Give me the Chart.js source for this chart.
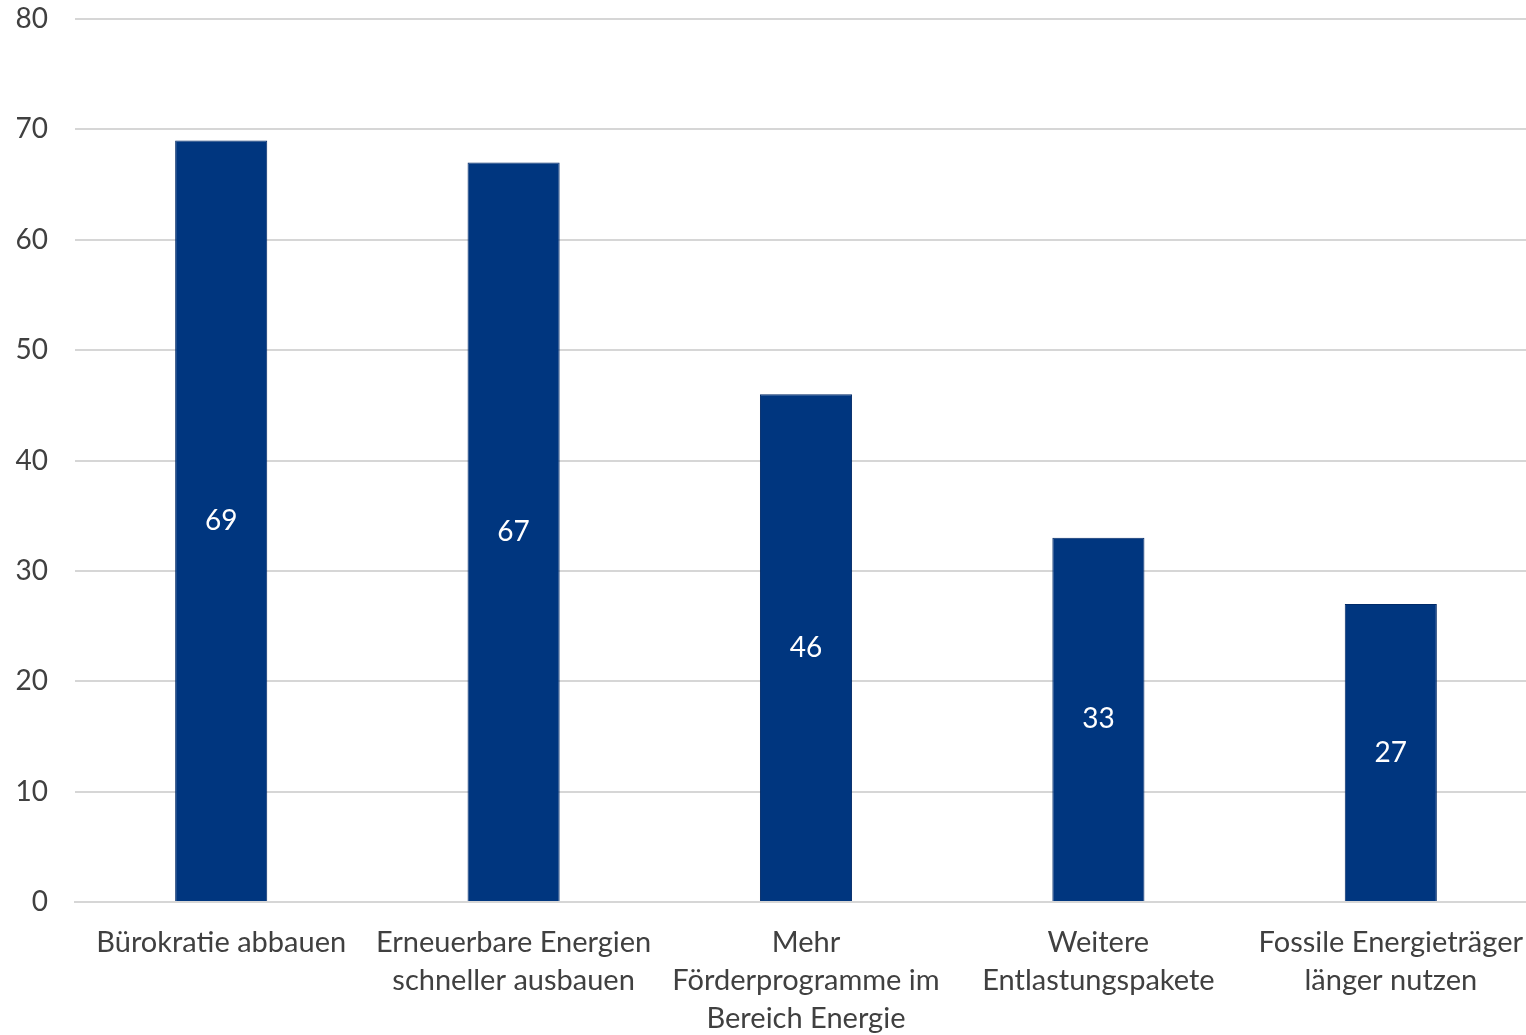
<!DOCTYPE html>
<html>
<head>
<meta charset="utf-8">
<script src="https://cdn.jsdelivr.net/npm/chart.js@4/dist/chart.umd.min.js"></script>
<style>
  html, body { margin: 0; padding: 0; background: #fff; overflow: hidden; }
  #wrap { width: 1537px; height: 1035px; position: relative; }
</style>
</head>
<body>
<div id="wrap"><canvas id="c"></canvas></div>
<script>
// Survey answers: share of respondents (percent)
const categories = [
  'Bürokratie abbauen',
  ['Erneuerbare Energien', 'schneller ausbauen'],
  ['Mehr', 'Förderprogramme im', 'Bereich Energie'],
  ['Weitere', 'Entlastungspakete'],
  ['Fossile Energieträger', 'länger nutzen']
];
const values = [69, 67, 46, 33, 27];
const yTicks = [0, 10, 20, 30, 40, 50, 60, 70, 80];

const FONT = 'Lato, "Noto Sans", sans-serif';

// Writes each bar's value in white at the middle of the bar
const valueLabels = {
  id: 'valueLabels',
  afterDatasetsDraw(chart) {
    const ctx = chart.ctx;
    const meta = chart.getDatasetMeta(0);
    ctx.save();
    ctx.fillStyle = '#ffffff';
    ctx.font = '28px ' + FONT;
    ctx.textAlign = 'center';
    ctx.textBaseline = 'middle';
    meta.data.forEach((bar, i) => {
      const mid = (bar.y + bar.base) / 2;
      ctx.fillText(String(values[i]), bar.x, mid);
    });
    ctx.restore();
  }
};

new Chart(document.getElementById('c'), {
  type: 'bar',
  data: {
    labels: categories,
    datasets: [{
      data: values,
      backgroundColor: '#00367f',
      borderColor: '#002a68',
      borderWidth: 1,
      categoryPercentage: 1.0,
      barPercentage: 0.315
    }]
  },
  options: {
    responsive: true,
    maintainAspectRatio: false,
    animation: false,
    layout: { padding: { top: 19, right: 0, left: 0, bottom: 0 } },
    plugins: { legend: { display: false }, tooltip: { enabled: false } },
    scales: {
      x: {
        grid: { display: false, drawTicks: false },
        border: { display: true, color: '#d6d6d6', width: 2 },
        ticks: {
          color: '#404040',
          font: { family: FONT, size: 29, lineHeight: 1.31 },
          padding: 22,
          maxRotation: 0,
          autoSkip: false
        },
        afterFit(scale) {
          scale.height = 133;
          scale.paddingTop = 0;
          scale.paddingBottom = 0;
          scale.paddingLeft = 0;
          scale.paddingRight = 0;
        }
      },
      y: {
        min: 0,
        max: 80,
        afterBuildTicks(scale) { scale.ticks = yTicks.map(v => ({ value: v })); },
        grid: { color: '#d6d6d6', lineWidth: 2, drawTicks: false },
        border: { display: false },
        ticks: {
          color: '#404040',
          font: { family: FONT, size: 28, lineHeight: 1.2 },
          padding: 27
        },
        afterFit(scale) {
          scale.width = 75;
          scale.paddingTop = 0;
          scale.paddingBottom = 0;
        }
      }
    }
  },
  plugins: [valueLabels]
});
</script>
</body>
</html>
